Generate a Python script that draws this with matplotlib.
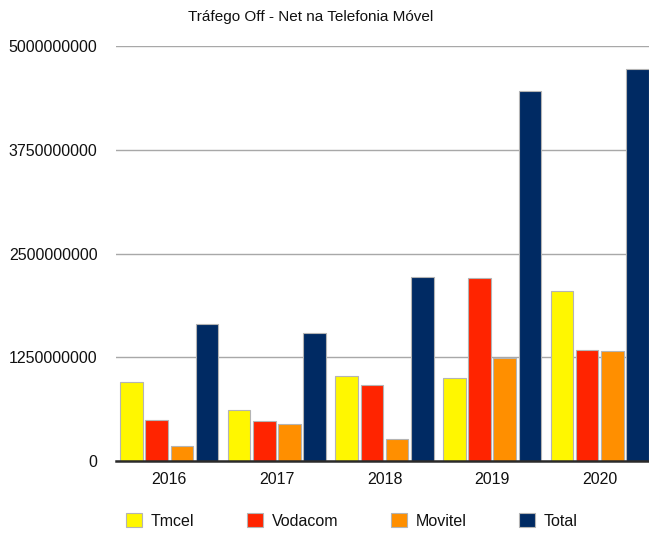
import numpy as np
import matplotlib
matplotlib.use("Agg")
import matplotlib.pyplot as plt
from matplotlib.ticker import FuncFormatter

plt.rcParams['font.family'] = ['Liberation Sans', 'DejaVu Sans']

# ============================================================
# DATA
# ============================================================
years = ['2016', '2017', '2018', '2019', '2020']
series_names = ['Tmcel', 'Vodacom', 'Movitel', 'Total']
tmcel = [0.953e9, 0.612e9, 1.029e9, 1.001e9, 2.051e9]
vodacom = [0.495e9, 0.483e9, 0.913e9, 2.204e9, 1.339e9]
movitel = [0.181e9, 0.446e9, 0.265e9, 1.239e9, 1.327e9]
total = [1.649e9, 1.548e9, 2.223e9, 4.46e9, 4.73e9]
y_ticks = [0, 1250000000, 2500000000, 3750000000, 5000000000]

COLORS = ['#FFF700', '#FF2400', '#FF8F00', '#002A63']
EDGE = '#b4b4b4'
GRID = '#a8a8a8'
FS = 11.5

# ============================================================
# PLOT
# ============================================================
fig = plt.figure(figsize=(6.49, 5.34), dpi=100)
ax = fig.add_axes([115.5 / 649, 73 / 534, 538 / 649, 414.7 / 534])

x = np.arange(len(years))
width = 0.211
pitch = 0.234
all_series = [tmcel, vodacom, movitel, total]

for i, (name, vals) in enumerate(zip(series_names, all_series)):
    offset = (i - 1.5) * pitch
    ax.bar(x + offset, vals, width, color=COLORS[i], edgecolor=EDGE,
           linewidth=0.8, label=name, zorder=3)

ax.set_xlim(-0.5, 4.5)
ax.set_ylim(0, 5e9)
ax.set_yticks(y_ticks)
ax.yaxis.set_major_formatter(FuncFormatter(lambda v, p: f'{int(round(v))}'))
ax.set_xticks(x)
ax.set_xticklabels(years)

ax.grid(axis='y', color=GRID, linewidth=1.0, zorder=0)
ax.set_axisbelow(True)

for side in ['top', 'right', 'left']:
    ax.spines[side].set_visible(False)
ax.spines['bottom'].set_color('#2a2a2a')
ax.spines['bottom'].set_linewidth(1.8)
ax.spines['bottom'].set_zorder(4)

ax.tick_params(axis='y', length=0, pad=13, labelsize=FS, colors='#111111')
ax.tick_params(axis='x', length=0, pad=8, labelsize=FS, colors='#111111')

fig.text(311 / 649, 1 - 17 / 534, 'Tráfego Off - Net na Telefonia Móvel',
         ha='center', va='center', fontsize=11.0, color='#111111')

leg = ax.legend(loc='center left', bbox_to_anchor=(126 / 649, 1 - 521 / 534),
                bbox_transform=fig.transFigure, ncol=4, frameon=False,
                fontsize=FS, handlelength=1.0, handleheight=1.0,
                handletextpad=0.55, columnspacing=3.3, borderpad=0,
                borderaxespad=0)
for t in leg.get_texts():
    t.set_color('#111111')

fig.savefig('out.png', dpi=100)
